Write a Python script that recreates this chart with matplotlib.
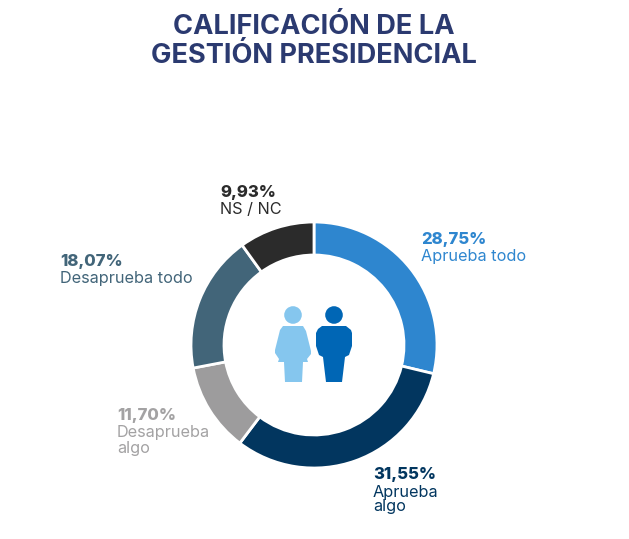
import matplotlib.pyplot as plt
from matplotlib.patches import Circle, Polygon

plt.rcParams['font.family'] = ['Inter', 'DejaVu Sans']

# clockwise from 12 o'clock
labels = ['Aprueba todo', 'Aprueba\nalgo', 'Desaprueba\nalgo', 'Desaprueba todo', 'NS / NC']
values = [28.75, 31.55, 11.70, 18.07, 9.93]
value_labels = ['28,75%', '31,55%', '11,70%', '18,07%', '9,93%']
colors = ['#2e86cf', '#02365f', '#9d9c9d', '#426579', '#2b2b2b']
text_colors = ['#2e86cf', '#02365f', '#a3a2a3', '#426579', '#2b2b2b']
label_pos = [(421, 232), (373, 467), (117, 408), (60, 254), (220, 185)]

W, H = 629, 539
fig = plt.figure(figsize=(W / 100, H / 100), dpi=100)
ax = fig.add_axes([0, 0, 1, 1])

# pie on an inverted y axis runs the other way round, so counterclock=True gives clockwise
ax.pie(values, colors=colors, startangle=-90, counterclock=True, center=(314, 345), radius=123,
       wedgeprops=dict(width=33, edgecolor='white', linewidth=2), frame=True)
ax.set_xlim(0, W)
ax.set_ylim(H, 0)
ax.set_aspect('equal')
ax.axis('off')

ax.text(314, 27, 'CALIFICACIÓN DE LA', ha='center', va='center', fontsize=19.6, fontweight='bold', color='#2b3a70')
ax.text(314, 56, 'GESTIÓN PRESIDENCIAL', ha='center', va='center', fontsize=19.6, fontweight='bold', color='#2b3a70')

for lab, val, col, (x, y) in zip(labels, value_labels, text_colors, label_pos):
    ax.text(x, y, val, ha='left', va='top', fontsize=12, fontweight='heavy', color=col)
    ax.text(x, y + 17.5, lab, ha='left', va='top', fontsize=11.7, color=col, linespacing=1.0)

# woman and man pictograms in the hole of the ring
woman = '#85c6ee'
man = '#0066b5'
ax.add_patch(Circle((293, 315), 8.8, color=woman, lw=0))
ax.add_patch(Polygon([(283, 326), (303, 326), (306, 331), (311, 351), (311, 354), (307, 359), (308, 362),
                      (303, 362), (302, 382), (285, 382), (284, 362), (278, 362), (279, 359),
                      (275, 353), (275, 350), (280, 330)], closed=True, color=woman, lw=0))
ax.add_patch(Circle((334, 315), 8.8, color=man, lw=0))
ax.add_patch(Polygon([(322, 326), (346, 326), (351, 330), (352, 333), (352, 346), (349, 355), (345, 357),
                      (342, 382), (326, 382), (323, 357), (319, 355), (316, 346), (316, 333), (318, 329)],
                     closed=True, color=man, lw=0))

plt.savefig('out.png', dpi=100)
